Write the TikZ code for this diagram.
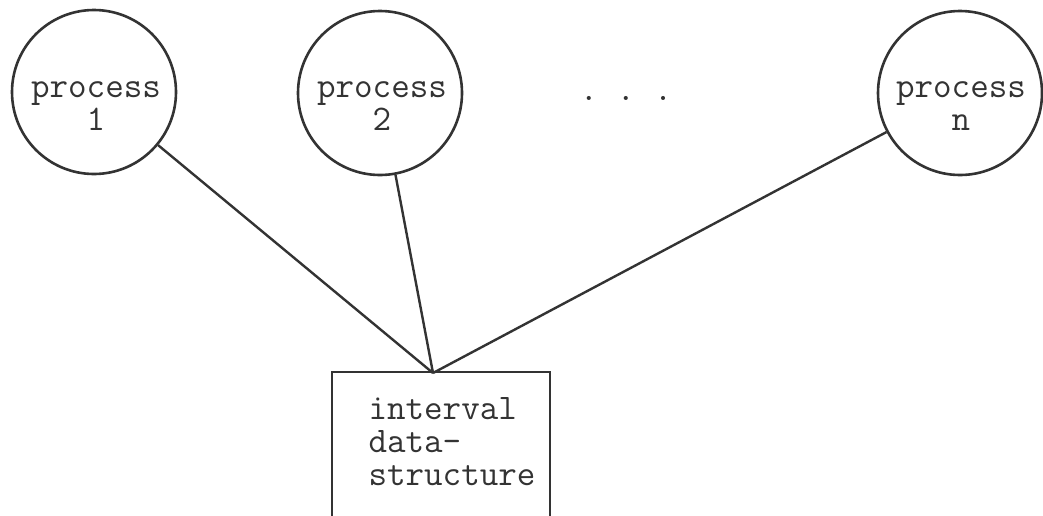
\documentclass[tikz,border=0pt]{standalone}
\usepackage{fontspec}
\definecolor{ink}{HTML}{333333}
\begin{document}
\begin{tikzpicture}[x=1pt,y=-1pt,
  proc/.style={circle,draw=ink,line width=2.6pt,minimum size=164pt,inner sep=0pt},
  lbl/.style={text=ink,font=\ttfamily\fontsize{36}{33}\selectfont,align=center,inner sep=0pt},
  boxstyle/.style={rectangle,draw=ink,line width=2.6pt,minimum width=218pt,minimum height=146pt,inner sep=0pt},
  link/.style={draw=ink,line width=2.4pt}]
\useasboundingbox (0,0) rectangle (1043,515);
\clip (0,0) rectangle (1043,515);
\node[proc] (c1) at (94,92) {};
\node[proc] (c2) at (380,93) {};
\node[proc] (cn) at (960,93) {};
\node[lbl] (t1) at (96,106) {process\\1};
\node[lbl] (t2) at (382,106) {process\\2};
\node[lbl] (tn) at (961,106) {process\\n};
\node[lbl,anchor=base] (dots) at (626,100) {.\ .\ .};
\node[boxstyle] (box) at (441,445) {};
\node[lbl,align=left] (bt) at (452,442) {interval\\data-\\structure};
\coordinate (j) at (433,373);
\draw[link] (c1) -- (j);
\draw[link] (c2) -- (j);
\draw[link] (cn) -- (j);
\end{tikzpicture}
\end{document}
